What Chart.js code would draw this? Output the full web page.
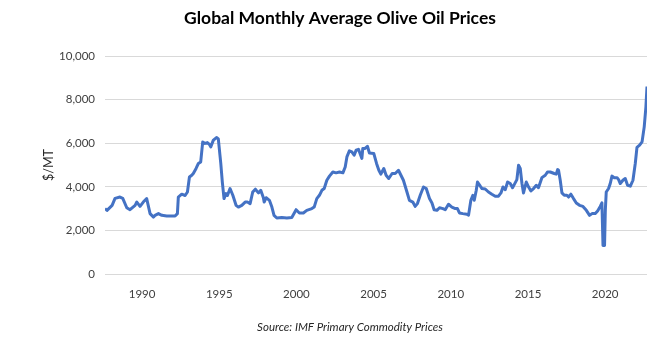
<!DOCTYPE html>
<html>
<head>
<meta charset="utf-8">
<script src="https://cdn.jsdelivr.net/npm/chart.js@4.4.1/dist/chart.umd.min.js"></script>
<style>
  html, body { margin: 0; padding: 0; background: #fff; }
  #wrap { width: 666px; height: 341px; position: relative; }
</style>
</head>
<body>
<div id="wrap"><canvas id="oliveChart"></canvas></div>
<script>
// values (decimal year, $/MT)
const years = [1987.60,1987.73,1988.06,1988.25,1988.57,1988.75,1989.01,1989.22,1989.55,1989.66,1989.87,
  1990.08,1990.30,1990.52,1990.73,1990.84,1991.06,1991.28,1991.60,1992.14,1992.29,1992.35,1992.57,1992.79,1992.94,
  1993.07,1993.22,1993.32,1993.50,1993.65,1993.80,1993.93,1994.08,1994.23,1994.36,1994.45,1994.62,1994.84,1994.94,
  1995.10,1995.20,1995.31,1995.44,1995.53,1995.70,1995.88,1996.09,1996.24,1996.46,1996.68,1996.82,1997.00,1997.17,
  1997.34,1997.54,1997.69,1997.86,1997.91,1998.04,1998.25,1998.41,1998.55,1998.73,1999.05,1999.38,1999.70,1999.98,
  2000.19,2000.45,2000.67,2001.00,2001.15,2001.32,2001.49,2001.65,2001.80,2001.97,2002.14,2002.36,2002.57,2002.79,
  2003.01,2003.16,2003.27,2003.43,2003.59,2003.74,2003.87,2004.02,2004.24,2004.30,2004.45,2004.60,2004.73,2005.01,
  2005.19,2005.34,2005.47,2005.66,2005.81,2005.98,2006.20,2006.40,2006.61,2006.77,2006.93,2007.16,2007.32,2007.54,
  2007.69,2007.84,2008.02,2008.23,2008.41,2008.62,2008.78,2008.92,2009.10,2009.27,2009.49,2009.64,2009.85,2010.07,
  2010.29,2010.43,2010.56,2010.78,2011.04,2011.15,2011.30,2011.43,2011.52,2011.65,2011.73,2011.91,2012.02,2012.23,
  2012.44,2012.66,2012.88,2013.09,2013.25,2013.38,2013.53,2013.68,2013.85,2014.00,2014.17,2014.28,2014.39,2014.50,
  2014.61,2014.71,2014.89,2015.04,2015.19,2015.36,2015.54,2015.68,2015.90,2016.12,2016.27,2016.44,2016.70,2016.83,
  2016.92,2016.98,2017.09,2017.20,2017.35,2017.52,2017.63,2017.78,2017.95,2018.13,2018.34,2018.56,2018.78,2018.99,
  2019.15,2019.36,2019.51,2019.68,2019.79,2019.86,2019.96,2020.01,2020.07,2020.22,2020.33,2020.44,2020.59,2020.77,
  2020.87,2020.98,2021.15,2021.30,2021.45,2021.63,2021.80,2021.95,2022.06,2022.23,2022.39,2022.53,2022.64,2022.71];

const prices = [3000,2920,3150,3470,3530,3470,3040,2950,3150,3300,3100,
  3300,3460,2770,2610,2690,2770,2690,2660,2660,2770,3530,3660,3600,3760,
  4450,4530,4610,4840,5070,5140,6060,5990,6030,5950,5830,6140,6260,6200,
  5070,4220,3460,3690,3600,3920,3610,3150,3070,3150,3300,3300,3230,3760,
  3890,3720,3840,3500,3300,3500,3380,3070,2690,2570,2590,2570,2590,2950,
  2800,2800,2920,3000,3070,3460,3610,3840,3920,4300,4490,4680,4640,4680,
  4640,4910,5370,5650,5600,5450,5680,5720,5300,5760,5760,5860,5550,5530,
  5070,4760,4580,4840,4530,4380,4610,4610,4760,4530,4300,3760,3380,3300,
  3100,3230,3610,3990,3920,3460,3260,2950,2920,3040,3000,2950,3200,3070,
  3000,3000,2800,2770,2740,2700,3380,3610,3380,3840,4220,4030,3920,3900,
  3760,3660,3570,3570,3720,3990,3870,4220,4150,3960,4180,4330,4990,4840,
  4150,3720,4220,3990,3810,3920,4070,3960,4420,4530,4680,4680,4610,4580,
  4790,4760,4300,3720,3610,3610,3530,3660,3460,3260,3150,3100,2920,2690,
  2770,2770,2890,3100,3260,1310,1310,2920,3760,3920,4150,4490,4420,4420,
  4330,4150,4300,4380,4070,4030,4300,5070,5810,5910,6060,6750,7670,8600];

const yearTicks = [1990, 1995, 2000, 2005, 2010, 2015, 2020];
const priceTicks = [0, 2000, 4000, 6000, 8000, 10000];

const chartTitle = "Global Monthly Average Olive Oil Prices";
const sourceNote = "Source: IMF Primary Commodity Prices";

const captions = {
    id: "captions",
    afterDraw(chart) {
        const ctx = chart.ctx;
        ctx.save();
        ctx.textAlign = "center";
        ctx.textBaseline = "middle";
        ctx.fillStyle = "#000000";
        ctx.font = "bold 17.5px Lato";
        ctx.fillText(chartTitle, 340, 18);
        ctx.fillStyle = "#262626";
        ctx.font = "italic 11.5px Lato";
        ctx.fillText(sourceNote, 350, 327);
        ctx.restore();
    }
};

new Chart(document.getElementById("oliveChart"), {
    type: "line",
    data: {
        datasets: [{
            label: "Olive oil",
            data: years.map((y, i) => ({ x: y, y: prices[i] })),
            borderColor: "#4472C4",
            borderWidth: 3,
            pointRadius: 0,
            tension: 0,
            borderJoinStyle: "round",
            fill: false
        }]
    },
    options: {
        responsive: true,
        maintainAspectRatio: false,
        animation: false,
        layout: { padding: { top: 56, left: 0, right: 19, bottom: 0 } },
        plugins: {
            legend: { display: false },
            tooltip: { enabled: false }
        },
        scales: {
            x: {
                type: "linear",
                min: years[0],
                max: years[years.length - 1],
                grid: { display: false, drawTicks: false },
                border: { display: false },
                afterBuildTicks: scale => { scale.ticks = yearTicks.map(v => ({ value: v })); },
                afterFit: scale => { scale.height = 67; },
                ticks: {
                    padding: 13,
                    color: "#404040",
                    font: { family: "Lato", size: 11.5 },
                    callback: v => String(v),
                    maxRotation: 0
                }
            },
            y: {
                min: 0,
                max: 10000,
                afterBuildTicks: scale => { scale.ticks = priceTicks.map(v => ({ value: v })); },
                afterFit: scale => { scale.width = 105; },
                grid: { color: "#d9d9d9", drawTicks: false },
                border: { display: false },
                ticks: {
                    padding: 10,
                    color: "#404040",
                    font: { family: "Lato", size: 11.5 },
                    callback: v => v.toLocaleString("en-US")
                },
                title: {
                    display: true,
                    text: "$/MT",
                    color: "#262626",
                    font: { family: "Lato", size: 12.5 },
                    padding: { top: 41, bottom: 0 }
                }
            }
        }
    },
    plugins: [captions]
});
</script>
</body>
</html>
